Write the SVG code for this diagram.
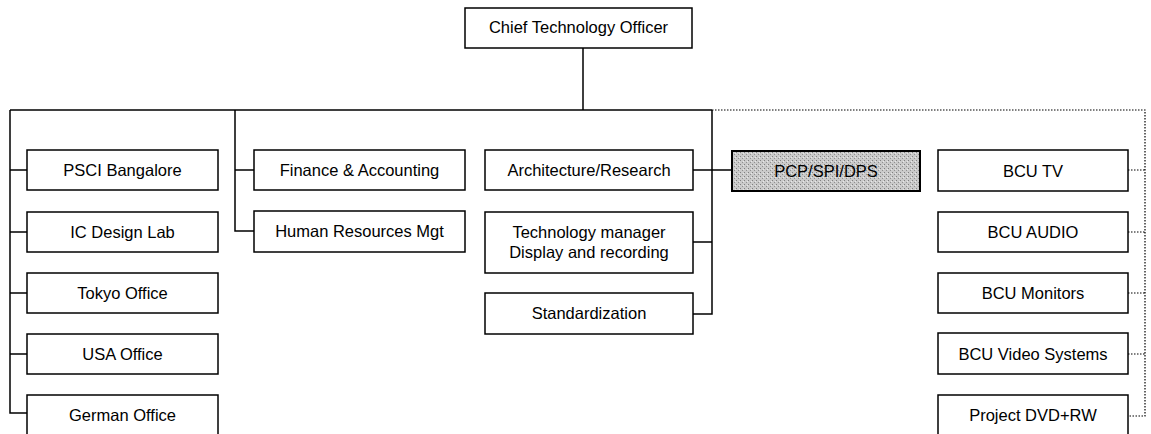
<svg xmlns="http://www.w3.org/2000/svg" width="1151" height="434" viewBox="0 0 1151 434">
<style>
.b{fill:#fff;stroke:#000;stroke-width:1.5}
.g{stroke:#000;stroke-width:2}
.t{font-family:"Liberation Sans",Arial,sans-serif;font-size:16.5px;fill:#000;text-anchor:middle}
.s{fill:none;stroke:#000;stroke-width:1.5}
.d{fill:none;stroke:#000;stroke-width:1.2;stroke-dasharray:1.5 1.5}
</style>
<defs>
<pattern id="stip" width="4" height="4" patternUnits="userSpaceOnUse">
<rect width="4" height="4" fill="#cacaca"/>
<rect x="0" y="0" width="1" height="1" fill="#808080"/>
<rect x="2" y="2" width="1" height="1" fill="#909090"/>
<rect x="3" y="1" width="1" height="1" fill="#e8e8e8"/>
</pattern>
</defs>
<rect width="1151" height="434" fill="#fff"/>
<g id="connectors">
<path class="s" d="M583 48V110M10 110H712M10 110V413H27M10 170H27M10 232H27M10 293H27M10 354H27M235 110V231H254M235 170H254M712 110V314H693M693 170H732M693 242H712"/>
<path class="d" d="M712 110H1145V416H1128M1128 170H1145M1128 232H1145M1128 293H1145M1128 354H1145"/>
</g>
<g id="cto"><rect class="b" x="465" y="8" width="227" height="40"/><text class="t" x="578.5" y="33">Chief Technology Officer</text></g>
<g id="psci"><rect class="b" x="27" y="150" width="191" height="40"/><text class="t" x="122.5" y="176">PSCI Bangalore</text></g>
<g id="icdesign"><rect class="b" x="27" y="212" width="191" height="40"/><text class="t" x="122.5" y="238">IC Design Lab</text></g>
<g id="tokyo"><rect class="b" x="27" y="273" width="191" height="40"/><text class="t" x="122.5" y="299">Tokyo Office</text></g>
<g id="usa"><rect class="b" x="27" y="334" width="191" height="40"/><text class="t" x="122.5" y="360">USA Office</text></g>
<g id="german"><rect class="b" x="27" y="395" width="191" height="45"/><text class="t" x="122.5" y="421">German Office</text></g>
<g id="finance"><rect class="b" x="254" y="150" width="211" height="40"/><text class="t" x="359.5" y="176">Finance &amp; Accounting</text></g>
<g id="hr"><rect class="b" x="254" y="211" width="211" height="41"/><text class="t" x="359.5" y="237">Human Resources Mgt</text></g>
<g id="arch"><rect class="b" x="485" y="150" width="208" height="40"/><text class="t" x="589" y="176">Architecture/Research</text></g>
<g id="techmgr"><rect class="b" x="485" y="212" width="208" height="61"/><text class="t" x="589" y="238">Technology manager</text><text class="t" x="589" y="258">Display and recording</text></g>
<g id="standard"><rect class="b" x="485" y="293" width="208" height="41"/><text class="t" x="589" y="319">Standardization</text></g>
<g id="pcp"><rect class="g" x="732" y="151" width="188" height="40" fill="url(#stip)"/><text class="t" x="826" y="177">PCP/SPI/DPS</text></g>
<g id="bcutv"><rect class="b" x="938" y="150" width="190" height="41"/><text class="t" x="1033" y="177">BCU TV</text></g>
<g id="bcuaudio"><rect class="b" x="938" y="212" width="190" height="40"/><text class="t" x="1033" y="238">BCU AUDIO</text></g>
<g id="bcumon"><rect class="b" x="938" y="273" width="190" height="40"/><text class="t" x="1033" y="299">BCU Monitors</text></g>
<g id="bcuvideo"><rect class="b" x="938" y="333" width="190" height="41"/><text class="t" x="1033" y="360">BCU Video Systems</text></g>
<g id="dvd"><rect class="b" x="938" y="395" width="190" height="45"/><text class="t" x="1033" y="421">Project DVD+RW</text></g>
</svg>
